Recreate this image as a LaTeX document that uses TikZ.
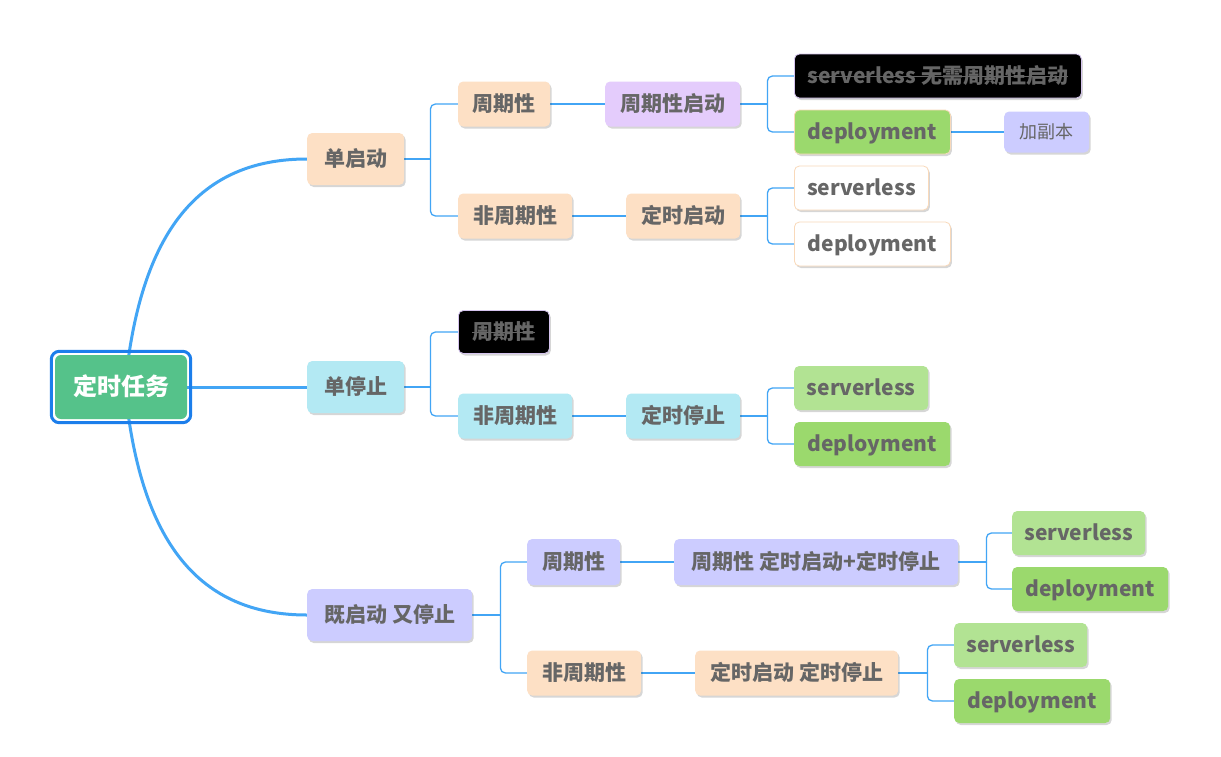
\documentclass[tikz,border=0pt]{standalone}
\usepackage{fontspec}
\setmainfont{Noto Sans CJK SC}
\usetikzlibrary{shadows,fit}
\pgfdeclarelayer{background}
\pgfsetlayers{background,main}
\definecolor{lineblue}{HTML}{42A5F5}
\definecolor{rootblue}{HTML}{1C7EEB}
\definecolor{rootgreen}{HTML}{55C28A}
\definecolor{peach}{HTML}{FDE0C5}
\definecolor{peachline}{HTML}{F9D9BA}
\definecolor{lblue}{HTML}{B3E9F3}
\definecolor{lav}{HTML}{CCCCFF}
\definecolor{purp}{HTML}{E4CCFC}
\definecolor{lgreen}{HTML}{B2E393}
\definecolor{dgreen}{HTML}{9BD96D}
\definecolor{txt}{HTML}{666666}
\definecolor{blkline}{HTML}{D5C4EE}
\newcommand\strikeit[1]{\setbox0\hbox{#1}\dimen0=\wd0 \rlap{\box0}\rule[0.3em]{\dimen0}{1.4pt}}
\tikzset{
  box/.style={rounded corners=5pt, minimum height=45pt, inner xsep=0pt, inner ysep=0pt,
    anchor=west, text=txt, font=\bfseries\fontsize{21}{25}\selectfont,
    text height=15pt, text depth=0pt,
    drop shadow={shadow xshift=1.5pt, shadow yshift=-2pt, fill=black, opacity=0.16}},
  lvl1/.style={box, minimum height=52pt},
  mw/.style={minimum width=#1},
  peachbox/.style={box, fill=peach},
  lbluebox/.style={box, fill=lblue},
  lavbox/.style={box, fill=lav},
  purpbox/.style={box, fill=purp},
  lgreenbox/.style={box, fill=lgreen, minimum height=44pt},
  dgreenbox/.style={box, fill=dgreen, minimum height=44pt},
  whitebox/.style={box, fill=white, draw=peachline, line width=0.8pt, minimum height=44pt},
  blackbox/.style={box, fill=black, draw=blkline, line width=0.8pt},
  thinline/.style={draw=lineblue, line width=1.3pt, rounded corners=5pt},
  thickline/.style={draw=lineblue, line width=3pt},
}
\begin{document}
\begin{tikzpicture}[x=1pt,y=-1pt]
\useasboundingbox (0,0) rectangle (1221,756);
% root
\node[rounded corners=6pt, fill=rootgreen, text=white, minimum width=132pt, minimum height=64pt,
  inner sep=0pt, font=\bfseries\fontsize{24}{28}\selectfont, text height=18pt, text depth=1pt] (root) at (121,387) {定时任务};
\node[fit=(root), inner sep=3.5pt, draw=rootblue, line width=3pt, rounded corners=8pt] (rootframe) {};
% level 1
\node[lvl1, fill=peach, mw=97pt] (a1) at (307,159) {单启动};
\node[lvl1, fill=lblue, mw=97pt] (a2) at (307,387) {单停止};
\node[lvl1, fill=lav, mw=165pt] (a3) at (307,615) {既启动 又停止};
% branch 1
\node[peachbox, mw=92pt] (b1) at (458,104) {周期性};
\node[peachbox, mw=114pt] (b2) at (458,216) {非周期性};
\node[purpbox, mw=135pt] (c1) at (605,104) {周期性启动};
\node[peachbox, mw=114pt] (c2) at (626,216) {定时启动};
\node[blackbox, mw=287pt, minimum height=44pt] (d1) at (794,76) {\strikeit{serverless 无需周期性启动}};
\node[dgreenbox, mw=156pt, draw=peachline, line width=0.8pt] (d2) at (794,132) {deployment};
\node[box, fill=lav, mw=85pt, minimum height=41pt, font=\fontsize{18}{22}\selectfont, text height=13pt] (e1) at (1004,132) {加副本};
\node[whitebox, mw=134pt] (d3) at (794,188) {serverless};
\node[whitebox, mw=156pt] (d4) at (794,244) {deployment};
% branch 2
\node[blackbox, mw=91pt, minimum height=43pt] (b3) at (458,332) {\strikeit{周期性}};
\node[lbluebox, mw=114pt] (b4) at (458,416) {非周期性};
\node[lbluebox, mw=114pt] (c3) at (626,416) {定时停止};
\node[lgreenbox, mw=134pt] (d5) at (794,388) {serverless};
\node[dgreenbox, mw=156pt] (d6) at (794,444) {deployment};
% branch 3
\node[lavbox, mw=93pt, minimum height=46pt] (b5) at (527,562) {周期性};
\node[lavbox, mw=284pt, minimum height=46pt] (c5) at (674,562) {周期性 定时启动+定时停止};
\node[lgreenbox, mw=133pt] (d7) at (1012,533) {serverless};
\node[dgreenbox, mw=156pt] (d8) at (1012,589) {deployment};
\node[peachbox, mw=114pt] (b6) at (527,673) {非周期性};
\node[peachbox, mw=203pt] (c6) at (695,673) {定时启动 定时停止};
\node[lgreenbox, mw=133pt] (d9) at (954,645) {serverless};
\node[dgreenbox, mw=156pt] (d10) at (954,701) {deployment};
% connectors
\begin{pgfonlayer}{background}
\fill[white] (0,0) rectangle (1221,756);
\draw[thickline] ([xshift=4pt]root.center) .. controls (140,230) and (200,159) .. (a1.west);
\draw[thickline] (root.center) -- (a2.west);
\draw[thickline] ([xshift=4pt]root.center) .. controls (140,544) and (200,615) .. (a3.west);
% branch 1
\draw[thinline] (a1.east) -- ([xshift=26pt]a1.east);
\draw[thinline] ([xshift=26pt]a1.east) |- (b1.west);
\draw[thinline] ([xshift=26pt]a1.east) |- (b2.west);
\draw[thinline] (b1.east) -- (c1.west);
\draw[thinline] (b2.east) -- (c2.west);
\draw[thinline] (c1.east) -- ([xshift=27pt]c1.east);
\draw[thinline] ([xshift=27pt]c1.east) |- (d1.west);
\draw[thinline] ([xshift=27pt]c1.east) |- (d2.west);
\draw[thinline] (d2.east) -- (e1.west);
\draw[thinline] (c2.east) -- ([xshift=27pt]c2.east);
\draw[thinline] ([xshift=27pt]c2.east) |- (d3.west);
\draw[thinline] ([xshift=27pt]c2.east) |- (d4.west);
% branch 2
\draw[thinline] (a2.east) -- ([xshift=26pt]a2.east);
\draw[thinline] ([xshift=26pt]a2.east) |- (b3.west);
\draw[thinline] ([xshift=26pt]a2.east) |- (b4.west);
\draw[thinline] (b4.east) -- (c3.west);
\draw[thinline] (c3.east) -- ([xshift=27pt]c3.east);
\draw[thinline] ([xshift=27pt]c3.east) |- (d5.west);
\draw[thinline] ([xshift=27pt]c3.east) |- (d6.west);
% branch 3
\draw[thinline] (a3.east) -- ([xshift=28pt]a3.east);
\draw[thinline] ([xshift=28pt]a3.east) |- (b5.west);
\draw[thinline] ([xshift=28pt]a3.east) |- (b6.west);
\draw[thinline] (b5.east) -- (c5.west);
\draw[thinline] (b6.east) -- (c6.west);
\draw[thinline] (c5.east) -- ([xshift=28pt]c5.east);
\draw[thinline] ([xshift=28pt]c5.east) |- (d7.west);
\draw[thinline] ([xshift=28pt]c5.east) |- (d8.west);
\draw[thinline] (c6.east) -- ([xshift=29pt]c6.east);
\draw[thinline] ([xshift=29pt]c6.east) |- (d9.west);
\draw[thinline] ([xshift=29pt]c6.east) |- (d10.west);
\end{pgfonlayer}
\end{tikzpicture}
\end{document}
